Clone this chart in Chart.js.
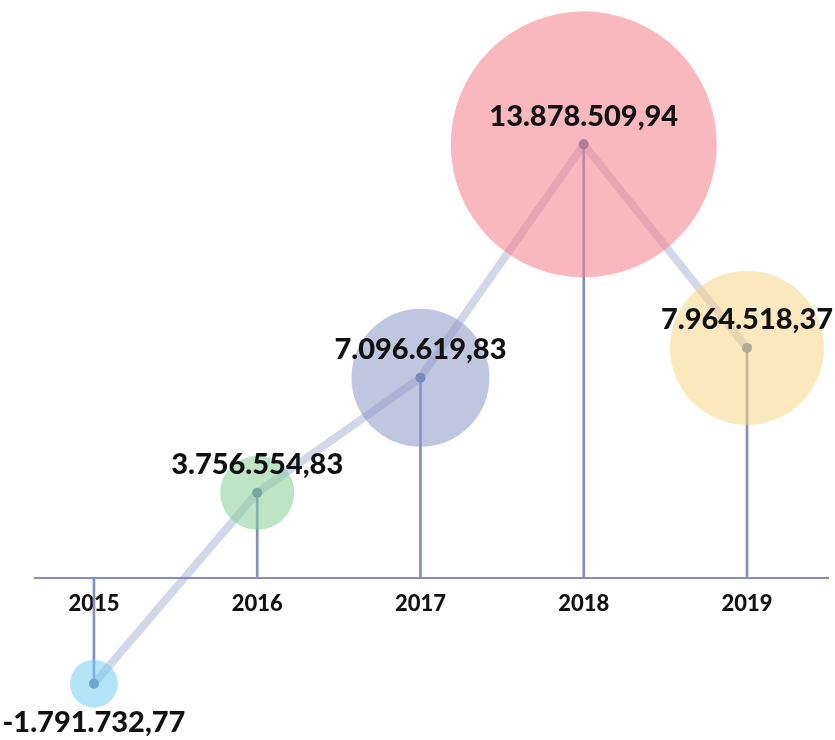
<!DOCTYPE html>
<html>
<head>
<meta charset="utf-8">
<script src="https://cdn.jsdelivr.net/npm/chart.js@4/dist/chart.umd.min.js"></script>
<style>
  html, body { margin: 0; padding: 0; background: #fff; }
  #wrap { width: 835px; height: 740px; }
</style>
</head>
<body>
<div id="wrap"><canvas id="grafico"></canvas></div>
<script>
// datos
const anios = [2015, 2016, 2017, 2018, 2019];
const valores = [-1791732.77, 3756554.83, 7096619.83, 13878509.94, 7964518.37];
const etiquetas = ['-1.791.732,77', '3.756.554,83', '7.096.619,83', '13.878.509,94', '7.964.518,37'];
const radios = [24, 37, 69, 133, 77];
const coloresBurbuja = [
  'rgba(117,205,243,0.55)',
  'rgba(135,205,149,0.55)',
  'rgba(139,152,197,0.55)',
  'rgba(244,126,135,0.55)',
  'rgba(250,213,135,0.55)'
];
const ejeBase = 1280000; // donde cruza la linea del eje x

const puntos = anios.map((a, i) => ({ x: a, y: valores[i] }));

const etiquetasPlugin = {
  id: 'etiquetas',
  afterDatasetsDraw(chart) {
    const meta = chart.getDatasetMeta(2);
    const ctx = chart.ctx;
    ctx.save();
    ctx.font = '900 29px Lato';
    ctx.fillStyle = '#111';
    ctx.textAlign = 'center';
    ctx.textBaseline = 'middle';
    meta.data.forEach((p, i) => {
      const dy = valores[i] < 0 ? 39 : -28;
      ctx.fillText(etiquetas[i], p.x, p.y + dy);
    });
    ctx.restore();
  }
};

new Chart(document.getElementById('grafico'), {
  type: 'bubble',
  data: {
    datasets: [
      {
        type: 'bubble',
        data: anios.map((a, i) => ({ x: a, y: valores[i], r: radios[i] })),
        backgroundColor: coloresBurbuja,
        borderWidth: 0,
        hoverRadius: 0,
        clip: false,
        order: 1
      },
      {
        type: 'bar',
        data: anios.map((a, i) => ({ x: a, y: [ejeBase, valores[i]] })),
        backgroundColor: '#8090c4',
        barThickness: 2,
        clip: false,
        order: 3
      },
      {
        type: 'line',
        data: puntos,
        borderColor: 'rgba(120,135,190,0.33)',
        borderWidth: 8,
        pointRadius: 5,
        pointBackgroundColor: '#6076b4',
        pointBorderWidth: 0,
        tension: 0,
        clip: false,
        order: 2
      }
    ]
  },
  options: {
    responsive: true,
    maintainAspectRatio: false,
    animation: false,
    layout: { autoPadding: false, padding: { left: 35, right: 7, top: 0, bottom: 0 } },
    plugins: {
      legend: { display: false },
      tooltip: { enabled: false }
    },
    scales: {
      x: {
        type: 'linear',
        position: { y: ejeBase },
        offset: false,
        min: 2014.639,
        max: 2019.496,
        afterBuildTicks(scale) {
          scale.ticks = anios.map(a => ({ value: a }));
        },
        grid: { display: false, drawTicks: false, offset: false },
        border: { display: true, color: '#8090c4', width: 2 },
        ticks: {
          padding: 13,
          color: '#111',
          font: { family: 'Lato', weight: '900', size: 22 },
          callback: v => String(v)
        }
      },
      y: {
        display: false,
        min: -3428000,
        max: 18072000
      }
    }
  },
  plugins: [etiquetasPlugin]
});
</script>
</body>
</html>
